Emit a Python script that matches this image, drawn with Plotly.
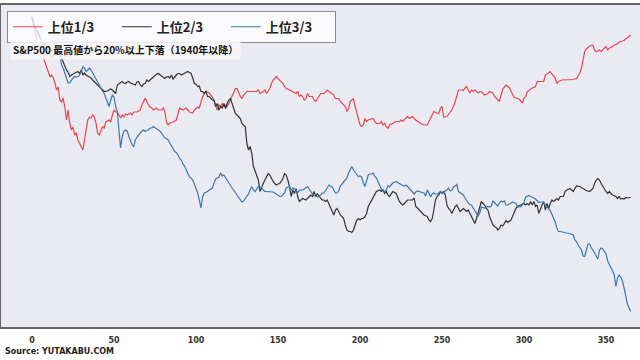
import plotly.graph_objects as go

# ---- data: days since peak vs. change (%) ----
series_names = ["上位1/3", "上位2/3", "上位3/3"]
series_colors = ["#E8474C", "#333333", "#3B78B0"]

red_pts = [
    (0, 0), (3, -4.6), (6, -7.2), (9, -10.2), (11, -12.0), (12, -11.6), (13, -12.2), (14, -13.2),
    (15, -14.6), (16, -14.0), (17, -16.6), (18, -17.0), (19, -16.2), (20, -18.0), (21, -20.6),
    (22, -18.6), (23, -21.2), (24, -22.6), (25, -22.0), (26, -23.6), (27, -23.2), (28, -24.6),
    (29, -25.2), (30, -26.0), (31, -26.6), (32, -24.6), (33, -22.6), (34, -20.6), (35, -20.0),
    (36, -20.2), (37, -19.6), (38, -20.0), (39, -21.2), (40, -23.2), (41, -23.6), (42, -22.6),
    (43, -22.0), (44, -22.2), (45, -21.0), (47, -20.6), (48, -21.0), (49, -19.6), (50, -18.6),
    (51, -19.0), (52, -19.0), (53, -19.6), (54, -20.2), (55, -19.6), (56, -20.0), (57, -19.4),
    (58, -19.6), (60, -19.2), (61, -19.6), (62, -19.0), (64, -19.0), (66, -18.6), (67, -17.6),
    (69, -16.2), (70, -17.0), (71, -17.6), (72, -18.0), (73, -18.2), (74, -18.6), (76, -18.2),
    (77, -18.6), (79, -18.6), (80, -18.2), (81, -19.0), (82, -21.0), (83, -21.6), (84, -21.2),
    (86, -21.0), (88, -20.6), (90, -18.2), (92, -18.6), (94, -18.2), (96, -19.0), (98, -19.2),
    (99, -18.6), (101, -18.0), (102, -18.2), (103, -17.0), (104, -16.0), (105, -15.4), (106, -14.8),
    (107, -15.0), (108, -15.2), (110, -16.0), (112, -17.8), (113, -18.6), (114, -17.6), (115, -17.9),
    (116, -17.3), (117, -17.9), (118, -17.6), (119, -17.9), (120, -17.3), (121, -16.6), (122, -15.9),
    (123, -14.9), (124, -14.3), (125, -14.3), (126, -15.3), (127, -15.9), (128, -16.3), (129, -15.6),
    (131, -14.9), (133, -14.9), (135, -14.9), (137, -14.9), (138, -14.6), (139, -15.3), (141, -14.9),
    (142, -14.6), (143, -15.3), (144, -14.9), (145, -14.3), (146, -13.3), (147, -12.6), (148, -12.3),
    (149, -11.9), (150, -12.3), (151, -12.6), (153, -13.3), (154, -13.9), (155, -14.3), (157, -14.6),
    (159, -14.9), (161, -15.3), (162, -14.9), (163, -15.9), (164, -15.6), (165, -15.9), (166, -16.6),
    (167, -16.3), (168, -15.3), (169, -15.9), (171, -15.9), (172, -16.6), (173, -16.9), (174, -16.3),
    (175, -15.6), (176, -15.3), (178, -15.3), (179, -14.9), (180, -14.6), (181, -14.9), (183, -15.3),
    (184, -15.6), (185, -16.3), (187, -16.3), (188, -16.9), (189, -17.3), (191, -17.9), (192, -18.9),
    (193, -18.3), (194, -16.9), (196, -16.3), (197, -17.9), (198, -19.3), (199, -20.6), (200, -21.6),
    (201, -21.9), (202, -21.6), (203, -20.3), (204, -20.9), (205, -20.6), (207, -20.3), (208, -20.3),
    (209, -20.9), (210, -21.3), (212, -21.3), (213, -20.9), (214, -21.6), (215, -21.3), (216, -21.9),
    (217, -22.3), (218, -21.6), (220, -21.3), (222, -20.9), (224, -20.9), (225, -20.6), (226, -20.9),
    (227, -20.6), (228, -20.3), (229, -19.9), (230, -20.3), (232, -19.9), (234, -20.6), (235, -20.9),
    (237, -21.3), (239, -21.6), (241, -21.6), (242, -20.9), (243, -20.2), (244, -19.3), (245, -18.9),
    (247, -19.2), (248, -19.3), (249, -18.2), (250, -17.9), (251, -20.0), (253, -19.9), (255, -19.0),
    (256, -18.6), (258, -17.0), (259, -15.6), (260, -14.6), (262, -14.6), (263, -14.7), (264, -14.2),
    (265, -13.9), (266, -14.6), (267, -15.2), (268, -14.6), (269, -14.9), (270, -14.6), (271, -14.9),
    (272, -15.2), (273, -14.9), (274, -14.9), (275, -15.3), (276, -15.6), (278, -15.3), (279, -14.9),
    (281, -15.2), (282, -15.9), (283, -16.2), (284, -16.6), (285, -16.9), (286, -15.6), (287, -14.4),
    (289, -13.6), (291, -14.1), (292, -14.8), (293, -15.6), (294, -16.1), (296, -16.3), (297, -16.4),
    (298, -16.8), (299, -17.2), (300, -16.2), (301, -15.9), (302, -14.9), (303, -14.6), (305, -14.2),
    (307, -13.9), (308, -12.9), (310, -12.9), (312, -12.9), (313, -11.6), (315, -11.2), (316, -10.9),
    (317, -11.4), (319, -12.2), (320, -13.3), (321, -12.9), (323, -12.6), (325, -12.6), (327, -12.6),
    (328, -12.6), (330, -12.5), (332, -12.3), (333, -11.8), (334, -11.2), (335, -10.2), (336, -8.1),
    (337, -6.9), (338, -6.4), (339, -6.1), (340, -5.8), (342, -5.6), (343, -6.6), (344, -7.0),
    (345, -6.8), (346, -6.6), (347, -6.9), (348, -6.6), (349, -6.4), (350, -5.9), (351, -6.6),
    (352, -6.2), (353, -6.1), (354, -5.9), (355, -5.6), (357, -5.4), (358, -5.0), (359, -4.9),
    (361, -4.7), (362, -4.3), (363, -4.2), (364, -3.9), (365, -3.6),
]

black_pts = [
    (0, 0), (1, -1.4), (3, -2.8), (5, -4.2), (7, -5.2), (9, -5.9), (10, -5.9), (11, -6.6), (12, -6.9),
    (14, -6.4), (16, -6.3), (17, -7.6), (18, -8.2), (19, -9.0), (20, -9.8), (21, -10.6), (22, -11.0),
    (23, -11.9), (24, -11.6), (25, -11.4), (26, -11.3), (27, -11.0), (28, -10.9), (29, -11.3),
    (30, -10.6), (31, -11.6), (32, -11.2), (33, -11.6), (34, -11.8), (35, -11.9), (36, -12.2),
    (37, -12.6), (38, -13.0), (39, -13.3), (40, -13.6), (41, -13.9), (42, -14.2), (43, -14.6),
    (44, -14.9), (46, -14.8), (47, -14.6), (48, -14.4), (49, -14.6), (50, -15.0), (51, -15.3),
    (52, -13.6), (53, -13.3), (54, -13.2), (55, -12.9), (56, -13.2), (57, -13.3), (58, -13.0),
    (59, -12.9), (60, -13.2), (61, -13.3), (62, -13.4), (63, -13.6), (64, -13.0), (65, -12.9),
    (66, -13.6), (67, -13.9), (68, -13.4), (69, -13.3), (70, -12.6), (71, -12.9), (72, -12.6),
    (73, -12.3), (74, -12.0), (75, -11.6), (76, -11.4), (77, -11.3), (78, -11.6), (79, -11.9),
    (80, -12.0), (81, -12.3), (82, -12.0), (83, -11.9), (84, -12.2), (85, -11.6), (86, -12.4),
    (87, -11.9), (88, -11.6), (89, -11.3), (90, -11.3), (91, -11.6), (92, -11.4), (93, -11.3),
    (94, -11.1), (95, -10.9), (96, -11.1), (97, -11.3), (98, -12.2), (99, -13.3), (100, -13.4),
    (101, -13.9), (102, -13.8), (103, -14.9), (104, -14.9), (105, -15.3), (106, -14.9), (107, -15.9),
    (108, -15.9), (110, -16.6), (111, -16.6), (112, -17.9), (113, -17.3), (114, -18.6), (115, -17.9),
    (116, -18.2), (117, -17.3), (118, -18.3), (119, -17.3), (120, -16.6), (121, -16.3), (122, -17.3),
    (123, -18.3), (124, -19.3), (125, -19.6), (126, -19.9), (127, -20.3), (128, -21.3), (129, -21.6),
    (130, -21.9), (131, -25.3), (132, -26.6), (133, -25.9), (134, -27.3), (135, -29.9), (136, -30.9),
    (137, -31.6), (138, -32.6), (139, -34.9), (140, -33.9), (141, -33.3), (142, -32.6), (143, -31.9),
    (144, -31.3), (145, -31.6), (146, -32.3), (147, -32.9), (148, -33.3), (149, -33.6), (150, -33.4),
    (151, -33.3), (152, -32.9), (153, -32.3), (154, -31.3), (155, -31.6), (156, -32.6), (157, -33.9),
    (158, -35.9), (159, -34.6), (160, -35.3), (161, -34.3), (162, -35.9), (163, -36.9), (164, -36.6),
    (165, -36.3), (167, -36.6), (169, -35.9), (170, -35.6), (171, -35.9), (172, -34.9), (173, -35.9),
    (174, -35.3), (175, -35.9), (177, -36.6), (178, -36.6), (179, -36.9), (180, -36.6), (181, -37.3),
    (182, -37.9), (183, -38.9), (184, -39.6), (185, -38.6), (186, -38.3), (187, -38.9), (188, -39.6),
    (189, -39.9), (190, -40.3), (191, -41.6), (192, -42.6), (193, -42.9), (194, -42.9), (195, -43.1),
    (196, -42.6), (197, -41.6), (198, -40.6), (199, -40.3), (200, -40.6), (201, -40.3), (202, -40.3),
    (203, -39.9), (204, -39.3), (205, -37.9), (206, -37.3), (207, -36.6), (208, -35.9), (209, -35.6),
    (210, -34.9), (212, -34.6), (213, -34.9), (214, -34.6), (215, -35.3), (216, -34.9), (217, -35.6),
    (218, -35.9), (219, -35.3), (220, -34.9), (222, -35.3), (223, -36.3), (224, -36.9), (225, -37.3),
    (226, -37.6), (227, -37.3), (228, -36.9), (229, -36.6), (230, -36.6), (232, -36.6), (233, -36.2),
    (234, -37.9), (235, -38.2), (237, -38.9), (239, -39.6), (241, -39.9), (242, -40.6), (243, -40.9),
    (244, -40.3), (245, -38.6), (246, -36.6), (247, -35.9), (248, -35.6), (249, -34.9), (250, -35.3),
    (251, -34.9), (252, -35.6), (253, -37.6), (254, -38.3), (255, -38.6), (256, -39.3), (257, -38.6),
    (258, -37.9), (259, -37.6), (260, -38.3), (261, -38.9), (262, -38.6), (263, -38.3), (264, -38.6),
    (265, -38.9), (266, -38.6), (267, -39.3), (268, -39.9), (269, -40.6), (270, -41.3), (271, -40.3),
    (272, -39.3), (273, -37.9), (274, -36.9), (275, -37.3), (276, -37.6), (277, -38.3), (278, -38.6),
    (279, -39.9), (280, -40.9), (281, -41.6), (282, -41.9), (283, -42.1), (284, -42.6), (285, -42.3),
    (286, -41.6), (287, -41.8), (288, -41.3), (289, -40.7), (290, -41.1), (291, -40.9), (292, -40.6),
    (293, -39.9), (294, -38.9), (295, -38.3), (296, -37.9), (298, -37.6), (300, -37.3), (301, -37.6),
    (302, -37.3), (303, -37.6), (304, -36.9), (305, -37.6), (306, -36.9), (307, -37.9), (308, -37.6),
    (309, -39.3), (310, -38.3), (311, -37.6), (312, -36.9), (313, -38.6), (314, -37.3), (315, -38.3),
    (316, -37.3), (317, -36.6), (318, -36.9), (320, -36.3), (321, -36.6), (322, -35.9), (324, -35.9),
    (325, -34.9), (326, -34.6), (328, -34.3), (329, -34.6), (330, -34.9), (331, -34.3), (332, -33.8),
    (334, -33.9), (336, -34.3), (338, -34.7), (340, -34.9), (341, -34.6), (342, -34.3), (343, -33.3),
    (344, -32.6), (345, -32.3), (346, -32.6), (347, -33.3), (348, -33.9), (349, -34.3), (350, -34.9),
    (351, -35.3), (352, -34.9), (353, -35.3), (354, -35.6), (356, -35.9), (357, -36.3), (358, -35.9),
    (359, -36.4), (360, -36.3), (361, -36.4), (362, -36.1), (363, -36.2), (365, -36.1),
]

blue_pts = [
    (0, 0), (1, -1.0), (2, -2.2), (4, -3.2), (5, -4.2), (7, -5.4), (9, -6.6), (11, -7.9), (12, -8.2),
    (13, -7.6), (14, -7.0), (15, -6.6), (16, -5.6), (17, -7.2), (18, -9.6), (19, -10.2), (20, -11.2),
    (21, -12.2), (22, -13.2), (23, -13.2), (24, -12.6), (25, -12.2), (26, -11.9), (27, -12.0),
    (28, -11.9), (29, -11.6), (30, -11.0), (31, -10.0), (32, -10.2), (33, -10.9), (34, -10.6),
    (35, -10.2), (36, -10.6), (37, -11.2), (38, -11.9), (39, -12.6), (40, -13.3), (41, -13.9),
    (42, -14.3), (43, -14.8), (44, -15.3), (46, -16.9), (47, -17.9), (48, -16.6), (49, -15.6),
    (50, -16.0), (51, -17.9), (52, -18.9), (53, -21.9), (54, -26.2), (55, -23.9), (56, -22.9),
    (57, -22.6), (58, -22.8), (59, -23.8), (60, -24.6), (61, -25.6), (62, -25.9), (63, -24.6),
    (64, -24.0), (65, -23.6), (66, -23.0), (67, -22.8), (68, -22.6), (69, -22.9), (70, -22.6),
    (71, -22.6), (72, -22.2), (73, -22.2), (74, -21.9), (75, -22.2), (76, -22.4), (77, -22.6),
    (78, -22.8), (79, -23.2), (80, -23.6), (81, -24.2), (82, -24.3), (83, -24.6), (84, -25.2),
    (85, -25.9), (86, -26.3), (87, -26.9), (88, -27.1), (89, -27.6), (90, -28.3), (91, -28.6),
    (92, -29.4), (93, -29.8), (94, -30.6), (95, -31.2), (96, -32.0), (97, -32.2), (98, -32.6),
    (99, -33.4), (100, -34.2), (101, -35.2), (102, -36.6), (103, -38.2), (104, -36.0), (105, -35.2),
    (106, -35.1), (107, -34.9), (108, -34.6), (110, -34.2), (111, -33.2), (112, -32.4), (113, -32.2),
    (114, -32.0), (115, -31.2), (116, -31.8), (117, -31.6), (118, -32.2), (119, -32.8), (120, -33.2),
    (121, -33.7), (122, -34.2), (123, -34.7), (124, -35.2), (125, -35.7), (126, -36.2), (127, -36.6),
    (128, -37.0), (129, -36.8), (130, -36.4), (131, -36.0), (132, -35.4), (133, -34.6), (134, -33.9),
    (135, -34.6), (136, -34.9), (137, -34.4), (138, -33.9), (139, -34.0), (140, -34.2), (141, -34.6),
    (142, -34.9), (143, -34.9), (144, -34.9), (146, -34.9), (147, -35.0), (148, -35.2), (149, -35.4),
    (150, -35.6), (151, -35.9), (152, -35.9), (153, -35.6), (154, -35.2), (155, -34.2), (156, -34.0),
    (157, -33.9), (158, -34.6), (159, -34.2), (160, -34.4), (161, -34.6), (162, -35.2), (163, -34.6),
    (164, -34.6), (165, -34.6), (166, -34.4), (167, -34.1), (168, -33.9), (169, -34.4), (170, -35.0),
    (171, -35.4), (172, -35.8), (173, -35.8), (174, -36.0), (175, -35.8), (176, -35.6), (177, -35.2),
    (178, -35.2), (180, -34.2), (181, -33.6), (182, -33.8), (183, -34.0), (184, -34.6), (185, -35.2),
    (186, -35.2), (187, -34.8), (188, -33.8), (189, -33.4), (190, -33.0), (191, -32.6), (192, -32.2),
    (193, -31.2), (194, -30.6), (195, -29.9), (196, -30.6), (197, -31.0), (198, -31.6), (199, -31.9),
    (200, -31.8), (201, -32.0), (202, -33.2), (203, -33.9), (204, -32.8), (205, -31.6), (206, -31.4),
    (207, -31.4), (208, -31.2), (209, -31.9), (210, -32.2), (211, -33.0), (212, -33.6), (213, -34.4),
    (214, -34.6), (215, -35.0), (216, -34.6), (217, -33.8), (218, -34.0), (219, -33.6), (220, -33.2),
    (222, -32.9), (223, -33.1), (224, -33.4), (225, -33.6), (226, -33.7), (227, -33.8), (228, -33.6),
    (229, -33.9), (230, -34.3), (231, -34.6), (232, -34.9), (233, -35.4), (234, -35.0), (235, -34.8),
    (237, -35.0), (238, -35.1), (239, -35.2), (240, -35.8), (241, -34.6), (242, -35.2), (243, -36.0),
    (244, -35.4), (245, -35.2), (246, -35.4), (247, -35.4), (248, -35.2), (249, -34.9), (250, -35.2),
    (251, -35.0), (252, -34.9), (253, -34.6), (254, -34.2), (255, -34.8), (256, -34.6), (257, -34.0),
    (258, -33.8), (259, -33.5), (260, -34.9), (261, -35.2), (262, -35.4), (263, -35.6), (264, -36.2),
    (265, -36.8), (266, -37.2), (267, -37.5), (268, -37.6), (269, -38.2), (270, -38.8), (271, -39.3),
    (272, -39.8), (273, -39.2), (274, -38.0), (275, -38.1), (276, -38.2), (277, -38.0), (278, -37.9),
    (279, -38.0), (280, -37.8), (281, -36.8), (282, -37.2), (283, -37.6), (284, -37.8), (285, -37.2),
    (286, -36.8), (287, -37.0), (288, -36.8), (289, -37.6), (290, -37.6), (291, -37.4), (292, -37.2),
    (293, -37.0), (294, -37.2), (295, -37.2), (296, -38.0), (298, -38.0), (299, -37.6), (300, -37.0),
    (301, -36.0), (302, -35.8), (303, -35.7), (304, -35.9), (305, -36.0), (306, -36.2), (307, -36.4),
    (308, -36.8), (309, -37.1), (310, -37.0), (311, -37.0), (312, -37.2), (313, -37.5), (314, -37.9),
    (315, -38.3), (316, -38.7), (317, -39.4), (318, -40.1), (319, -41.0), (320, -42.2), (321, -42.9),
    (322, -42.9), (324, -43.1), (326, -43.2), (328, -43.3), (329, -43.4), (330, -43.6), (331, -44.6),
    (332, -44.9), (333, -45.6), (334, -46.0), (335, -46.6), (336, -47.8), (337, -47.9), (338, -46.6),
    (339, -45.4), (340, -45.4), (341, -46.2), (342, -46.6), (343, -47.2), (344, -47.8), (345, -48.4),
    (346, -46.6), (347, -46.2), (348, -46.4), (349, -46.8), (350, -47.4), (351, -48.8), (352, -49.4),
    (353, -50.0), (354, -50.8), (355, -51.6), (356, -53.9), (357, -52.2), (358, -51.6), (359, -52.0),
    (360, -52.8), (361, -54.2), (362, -56.0), (363, -57.4), (365, -58.9),
]

x_ticks = [0, 50, 100, 150, 200, 250, 300, 350]
title_text = "S&P500 最高値から20%以上下落（1940年以降）"
source_text = "Source: YUTAKABU.COM"

FONT = "DejaVu Sans, Noto Sans CJK JP, sans-serif"
LEGEND_FONT = "Noto Sans CJK JP, DejaVu Sans, sans-serif"

fig = go.Figure()
for name, color, pts in zip(series_names, series_colors, [red_pts, black_pts, blue_pts]):
    days, vals = zip(*pts)
    fig.add_trace(go.Scatter(
        x=list(days), y=list(vals), mode="lines", name=name,
        line=dict(color=color, width=1.2),
    ))

fig.update_layout(
    width=640, height=360,
    margin=dict(l=1, r=0, t=5, b=33),
    paper_bgcolor="white",
    plot_bgcolor="#EAEAF2",
    showlegend=True,
    legend=dict(
        orientation="h", x=0.009, y=0.982, xanchor="left", yanchor="top",
        bgcolor="rgba(255,255,255,0.75)", bordercolor="#8C8C8C", borderwidth=1,
        font=dict(family=LEGEND_FONT, size=13, color="#222", weight="bold"),
        entrywidth=64, entrywidthmode="pixels",
        itemwidth=30, tracegroupgap=0,
    ),
    xaxis=dict(
        range=[-18.9, 370.7], tickvals=x_ticks, showgrid=False, zeroline=False,
        showline=True, linecolor="#666666", linewidth=2, mirror=True,
        ticks="", ticklabelstandoff=4,
        tickfont=dict(family=FONT, size=8, color="#333", weight="bold"),
    ),
    yaxis=dict(
        range=[-62, 2.4], showticklabels=False, showgrid=False, zeroline=False,
        showline=True, linecolor="#666666", linewidth=2, ticks="",
    ),
    annotations=[
        dict(text=title_text, xref="paper", yref="paper", x=0.014, y=0.895,
             xanchor="left", yanchor="top", showarrow=False,
             bgcolor="rgba(248,248,250,0.85)", borderpad=2,
             font=dict(family=LEGEND_FONT, size=10, color="#111", weight="bold")),
        dict(text=source_text, xref="paper", yref="paper", x=0.003, y=-0.075,
             xanchor="left", yanchor="middle", showarrow=False,
             font=dict(family=FONT, size=8, color="#222", weight="bold")),
    ],
)

fig.write_html(
    "out.html",
    config={"displayModeBar": False},
    post_script="document.body.style.margin='0';document.body.style.overflow='hidden';",
)
